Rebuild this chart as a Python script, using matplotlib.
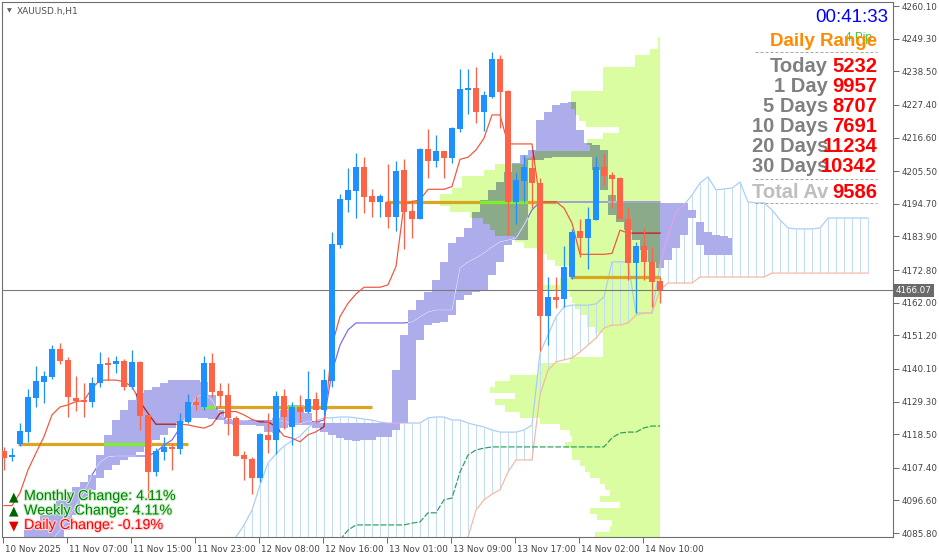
import numpy as np
import matplotlib
matplotlib.use("Agg")
import matplotlib.pyplot as plt
from matplotlib.path import Path
from matplotlib.lines import Line2D
import matplotlib.patheffects as pe
import matplotlib.transforms as mtransforms

nan = np.nan

# ---------------- data (H1 bars, index 0 = 10 Nov 22:00) ----------------
opens = [4113.0, 4110.9, 4115.3, 4119.3, 4130.6, 4135.9, 4137.5, 4146.7, 4142.9, 4130.6,
         4129.8, 4129.3, 4135.3, 4141.7, 4141.6, 4142.7, 4134.0, 4142.5, 4124.8, 4106.1,
         4112.7, 4114.4, 4113.5, 4122.6, 4129.3, 4127.5, 4142.2, 4132.8, 4131.5, 4123.8,
         4111.6, 4110.3, 4104.1, 4118.2, 4116.6, 4131.2, 4121.0, 4127.6, 4125.8, 4130.2,
         4126.5, 4136.2, 4181.2, 4196.0, 4199.0, 4206.9, 4197.3, 4195.4, 4195.3, 4190.4,
         4205.9, 4192.3, 4189.7, 4212.8, 4209.0, 4212.2, 4210.0, 4219.3, 4232.3, 4232.9,
         4225.2, 4230.1, 4242.6, 4232.1, 4195.4, 4202.3, 4206.6, 4201.5, 4157.6, 4163.8,
         4163.2, 4170.5, 4185.7, 4183.5, 4189.3, 4207.0, 4204.2, 4203.1, 4189.6, 4175.0,
         4180.7, 4175.6, 4169.2]
highs = [4114.4, 4113.9, 4122.2, 4133.5, 4141.1, 4139.4, 4148.0, 4148.7, 4144.1, 4137.8,
         4135.3, 4137.5, 4145.6, 4144.1, 4144.5, 4143.4, 4146.4, 4142.7, 4124.8, 4113.8,
         4117.7, 4115.5, 4125.6, 4131.7, 4131.1, 4144.4, 4145.5, 4135.5, 4135.5, 4124.5,
         4112.9, 4111.1, 4118.8, 4125.4, 4132.8, 4133.4, 4129.3, 4131.5, 4139.4, 4132.6,
         4140.0, 4185.3, 4197.8, 4206.6, 4211.4, 4210.3, 4199.5, 4197.9, 4207.8, 4209.0,
         4209.4, 4196.0, 4213.3, 4219.4, 4217.4, 4212.2, 4220.0, 4239.3, 4239.3, 4239.8,
         4232.1, 4244.8, 4243.9, 4232.3, 4204.8, 4210.8, 4211.0, 4203.1, 4170.4, 4170.4,
         4180.7, 4186.3, 4189.7, 4193.5, 4210.3, 4211.2, 4205.3, 4203.5, 4193.2, 4182.0,
         4186.6, 4180.5, 4170.6]
lows = [4106.7, 4109.7, 4114.5, 4116.0, 4127.6, 4128.9, 4136.8, 4141.7, 4124.3, 4126.3,
        4124.3, 4127.6, 4134.0, 4136.4, 4138.6, 4133.1, 4133.4, 4119.9, 4096.8, 4104.8,
        4110.0, 4106.7, 4111.9, 4122.1, 4126.5, 4126.5, 4130.9, 4127.6, 4118.2, 4111.4,
        4103.4, 4098.6, 4102.8, 4112.2, 4111.9, 4120.2, 4115.0, 4122.6, 4125.4, 4122.3,
        4124.9, 4134.2, 4180.0, 4192.1, 4190.1, 4191.6, 4190.4, 4190.4, 4186.8, 4185.8,
        4179.7, 4183.3, 4189.7, 4203.1, 4207.0, 4203.1, 4208.1, 4218.5, 4224.4, 4221.5,
        4218.9, 4229.6, 4219.7, 4184.4, 4188.0, 4195.4, 4193.2, 4146.0, 4148.0, 4160.1,
        4160.7, 4169.7, 4177.2, 4173.1, 4189.3, 4200.9, 4193.2, 4189.6, 4169.5, 4158.5,
        4169.5, 4160.7, 4161.8]
closes = [4110.7, 4111.6, 4119.6, 4130.8, 4136.1, 4137.8, 4146.7, 4142.8, 4130.9, 4129.6,
          4129.3, 4135.5, 4141.7, 4141.5, 4142.7, 4134.0, 4142.5, 4124.6, 4106.1, 4112.9,
          4114.4, 4113.5, 4122.9, 4129.0, 4128.2, 4142.2, 4132.6, 4131.2, 4123.8, 4111.4,
          4110.2, 4104.1, 4118.5, 4116.6, 4131.2, 4124.3, 4127.6, 4125.8, 4130.2, 4126.5,
          4136.4, 4181.4, 4196.3, 4199.3, 4206.9, 4197.1, 4195.4, 4197.3, 4190.4, 4205.6,
          4192.1, 4189.7, 4212.8, 4209.0, 4212.2, 4210.0, 4219.9, 4232.7, 4232.9, 4225.2,
          4230.7, 4242.6, 4231.6, 4195.4, 4202.6, 4207.0, 4201.5, 4157.6, 4164.0, 4162.9,
          4173.9, 4185.5, 4183.5, 4189.7, 4207.0, 4204.0, 4202.9, 4189.6, 4175.0, 4180.8,
          4175.6, 4168.9, 4166.07]

tenkan = [4094.9, 4094.9, 4099.1, 4106.7, 4112.3, 4117.7, 4124.9, 4127.5, 4128.2, 4129.3,
          4129.6, 4133.7, 4136.4, 4136.4, 4136.4, 4135.9, 4134.2, 4129.3, 4125.4, 4121.8,
          4121.8, 4121.8, 4121.8, 4121.6, 4121.0, 4120.5, 4121.6, 4125.4, 4126.0, 4126.0,
          4124.9, 4123.4, 4122.6, 4122.6, 4121.0, 4117.9, 4117.2, 4116.0, 4118.3, 4119.3,
          4121.0, 4148.0, 4157.4, 4161.8, 4164.9, 4167.1, 4167.1, 4167.1, 4167.9, 4174.0,
          4194.5, 4195.4, 4196.0, 4199.5, 4199.5, 4199.5, 4200.4, 4209.4, 4210.1, 4212.5,
          4216.4, 4224.1, 4224.1, 4214.5, 4214.5, 4214.5, 4214.5, 4195.4, 4195.4, 4195.4,
          4193.3, 4188.3, 4178.0, 4178.0, 4178.0, 4178.0, 4178.3, 4186.0, 4185.0, 4185.0,
          4185.0, 4185.0, 4185.0]
kijun = [nan, nan, nan, nan, nan, nan, 4083.5, 4086.8, 4090.8, 4095.1,
         4099.1, 4105.0, 4109.3, 4111.0, 4111.3, 4111.3, 4111.3, 4111.3, 4111.3, 4112.6,
         4114.9, 4116.6, 4120.6, 4125.9, 4130.8, 4131.8, 4129.8, 4124.9, 4122.9, 4122.9,
         4122.9, 4122.9, 4122.9, 4122.9, 4122.9, 4122.9, 4121.9, 4121.9, 4122.9, 4122.5,
         4123.2, 4139.1, 4148.0, 4153.0, 4155.3, 4155.3, 4155.3, 4155.3, 4155.3, 4155.3,
         4155.3, 4155.6, 4157.3, 4158.9, 4159.6, 4159.6, 4159.6, 4173.5, 4175.5, 4176.8,
         4178.4, 4180.4, 4182.1, 4182.7, 4183.4, 4187.7, 4192.7, 4195.3, 4195.3, 4195.3,
         4195.3, 4195.3, 4195.3, 4195.3, 4195.3, 4195.3, 4195.3, 4195.3, 4195.3, 4195.3,
         4195.3, 4195.3, 4195.3]

# lavender (higher time-frame) cloud, bars 2..91
cloud_start = 2
cloud_top = [4084.5, 4086.8, 4089.5, 4091.8, 4094.1, 4096.8, 4099.4, 4101.0, 4102.7, 4105.0,
             4111.6, 4118.2, 4123.2, 4126.5, 4129.8, 4132.1, 4133.1, 4134.1, 4135.4, 4136.4,
             4136.4, 4136.4, 4136.4, 4135.8, 4131.5, 4126.5, 4123.5, 4123.2, 4123.2, 4122.9,
             4122.9, 4122.5, 4123.9, 4126.5, 4128.2, 4128.2, 4125.5, 4122.5, 4122.2, 4122.2,
             4122.2, 4122.2, 4122.2, 4122.2, 4122.2, 4122.2, 4122.2, 4139.7, 4151.3, 4159.6,
             4162.9, 4165.5, 4169.5, 4175.5, 4181.7, 4183.7, 4186.7, 4192.0, 4196.0, 4199.3,
             4201.9, 4205.2, 4208.2, 4210.8, 4212.5, 4222.4, 4225.1, 4227.4, 4228.0, 4228.4,
             4219.1, 4214.8, 4214.2, 4212.5, 4197.6, 4195.3, 4195.0, 4195.0, 4195.0, 4195.0,
             4195.0, 4195.0, 4195.0, 4195.0, 4192.7, 4188.7, 4185.4, 4184.4, 4184.1, 4183.4]
cloud_bot = [4083.5, 4083.5, 4083.5, 4083.5, 4083.5, 4083.5, 4086.8, 4091.8, 4096.8, 4100.1,
             4104.0, 4106.7, 4108.3, 4110.0, 4111.0, 4112.6, 4114.3, 4116.6, 4118.2, 4120.6,
             4122.2, 4123.2, 4123.9, 4123.9, 4123.5, 4123.2, 4121.9, 4121.5, 4121.5, 4121.5,
             4121.2, 4119.2, 4118.9, 4120.6, 4121.5, 4121.5, 4121.5, 4120.6, 4119.2, 4118.2,
             4117.3, 4116.6, 4116.3, 4116.6, 4116.6, 4117.6, 4117.6, 4119.9, 4122.2, 4129.8,
             4149.7, 4154.6, 4155.3, 4155.6, 4157.9, 4162.9, 4164.5, 4165.5, 4166.2, 4171.2,
             4175.5, 4181.1, 4182.7, 4182.7, 4209.2, 4209.2, 4209.8, 4210.2, 4210.2, 4210.2,
             4210.2, 4210.2, 4205.9, 4199.3, 4191.0, 4188.7, 4186.0, 4182.7, 4179.4, 4175.5,
             4173.5, 4176.1, 4180.1, 4184.4, 4190.0, 4181.1, 4177.8, 4177.8, 4177.8, 4177.8]

# H1 Ichimoku kumo drawn as histogram, bars 29..108
hatch_start = 29
hatch_top = [4084.5, 4088.5, 4093.4, 4101.7, 4109.0, 4112.0, 4114.6, 4116.3, 4117.9, 4120.6,
             4122.9, 4123.9, 4123.9, 4124.2, 4124.2, 4123.9, 4123.5, 4123.2, 4122.5, 4122.2,
             4122.2, 4122.2, 4122.2, 4122.2, 4123.9, 4124.2, 4124.2, 4123.2, 4123.2, 4122.2,
             4121.5, 4120.9, 4119.9, 4119.2, 4119.2, 4119.2, 4119.9, 4121.5, 4145.4, 4151.3,
             4157.3, 4160.6, 4161.2, 4161.2, 4161.2, 4161.6, 4163.9, 4175.5, 4175.5, 4175.5,
             4158.6, 4158.6, 4158.6, 4174.5, 4184.4, 4192.0, 4194.3, 4197.6, 4201.6, 4203.6,
             4199.3, 4199.6, 4199.9, 4201.9, 4195.3, 4195.0, 4195.0, 4192.7, 4189.4, 4186.7,
             4186.4, 4186.4, 4186.4, 4186.7, 4190.0, 4190.0, 4190.0, 4190.0, 4190.0, 4190.0]
hatch_bot = [4080.0] * 29 + [
             4084.5, 4093.4, 4096.8, 4098.7, 4100.1, 4106.0, 4110.0, 4110.0, 4110.0, 4131.5,
             4139.7, 4142.4, 4143.1, 4143.7, 4145.7, 4148.0, 4150.3, 4153.6, 4154.6, 4154.6,
             4155.3, 4157.9, 4158.6, 4158.6, 4166.2,
             4168.5, 4168.5, 4168.5, 4168.5] + [4170.5] * 9 + [4171.8] * 13

# green (lagging) line, bars 42..82
green_start = 42
green_line = [4083.5, 4086.8, 4088.5, 4088.5, 4088.5, 4088.5, 4088.5, 4088.5, 4088.5, 4089.1,
              4089.5, 4092.5, 4092.5, 4096.8, 4097.4, 4106.0, 4111.6, 4113.3, 4113.9, 4114.3,
              4114.3, 4114.3, 4114.3, 4114.3, 4114.3, 4114.3, 4114.3, 4114.3, 4114.3, 4114.3,
              4114.3, 4114.3, 4114.3, 4114.3, 4117.3, 4118.9, 4119.2, 4119.2, 4120.6, 4121.2,
              4121.2]

# volume profile: bins of 2.0 starting at 4084
profile_low = 4084.0
profile_step = 2.0
profile_volume = [8.2, 6.3, 6.1, 7.9, 8.8, 5.1, 7.6, 6.3, 6.9, 7.6,
                  8.8, 9.4, 10.1, 11.1, 11.1, 11.9, 11.1, 11.3, 12.6, 15.1,
                  17.6, 19.4, 20.7, 18.2, 21.3, 20.7, 18.8, 15.3, 15.3, 11.3,
                  7.2, 7.2, 7.2, 7.2, 8.2, 9.2, 9.2, 10.1, 10.7, 11.1,
                  11.3, 15.1, 12.6, 11.3, 11.3, 13.2, 14.2, 15.1, 17.0, 18.2,
                  20.7, 21.3, 22.2, 23.8, 26.3, 27.6, 27.6, 26.1, 24.8, 24.8,
                  22.1, 20.7, 17.0, 15.7, 8.8, 9.2, 7.2, 5.2, 9.3, 10.2,
                  10.7, 11.2, 11.2, 11.2, 7.2, 7.2, 7.2, 7.2, 3.2, 3.2,
                  1.3, 0.3, 0.3]

# daily open levels
day_open = [4115.3, 4127.5, 4195.3, 4170.5]
day_first_bar = [2, 25, 48, 71]
day_last_bar = [23, 46, 69, 82]

price_ticks = [4260.10, 4249.30, 4238.50, 4227.40, 4216.60, 4205.50, 4194.70, 4183.90,
               4172.80, 4162.00, 4151.20, 4140.10, 4129.30, 4118.50, 4107.40, 4096.60, 4085.80]
time_tick_bars = [0, 8, 16, 24, 32, 40, 48, 56, 64, 72, 80]
time_tick_labels = ["10 Nov 2025", "11 Nov 07:00", "11 Nov 15:00", "11 Nov 23:00",
                    "12 Nov 08:00", "12 Nov 16:00", "13 Nov 01:00", "13 Nov 09:00",
                    "13 Nov 17:00", "14 Nov 02:00", "14 Nov 10:00"]
last_price = 4166.07

range_labels = ["Today", "1 Day", "5 Days", "10 Days", "20 Days", "30 Days"]
range_values = [5232, 9957, 8707, 7691, 11234, 10342]
range_total = 9586
change_names = ["Monthly Change", "Weekly Change", "Daily Change"]
change_values = [4.11, 4.11, -0.19]

# ---------------- styling ----------------
BULL = "#1E90FF"
BEAR = "#FF6347"
TENKAN_C = "#F2553A"
TENKAN_X = "#A82840"
KIJUN_C = "#7B68EE"
KIJUN_X = "#D6DAF6"
CLOUD_C = "#ADADEB"
OVER_C = "#8AAA8A"
HATCH_C = "#C2DDF7"
HTOP_C = "#A9CDF2"
HTOP_X = "#E49BE6"
HBOT_C = "#F6B8A2"
GREEN_C = "#2E9E5A"
PROF_C = "#D9FDA0"
GOLD_C = "#DAA520"
GOLD_X = "#7CF02C"
AX_C = "#6E6E6E"
PX = 0.72  # one pixel in points

W, H = 939, 558
fig = plt.figure(figsize=(W / 100, H / 100), dpi=100)
ax = fig.add_axes([2 / W, 21 / H, 891 / W, 535 / H])
ax.set_xlim(-0.25, 111.125)
ax.set_ylim(4084.51, 4261.44)
ax.set_facecolor("white")

# volume profile
nb = len(profile_volume)
prof_lo = profile_low + profile_step * np.arange(nb)
prof_vol = np.array(profile_volume)
anchor = len(opens) - 1 + 0.06
ax.barh(prof_lo, prof_vol, height=profile_step, left=anchor - prof_vol, align="edge",
        color=PROF_C, lw=0, zorder=1)
verts, codes = [], []
for lo, v in zip(prof_lo, prof_vol):
    l, r, t = anchor - v, anchor, lo + profile_step
    verts += [(l, lo), (r, lo), (r, t), (l, t), (l, lo)]
    codes += [Path.MOVETO, Path.LINETO, Path.LINETO, Path.LINETO, Path.CLOSEPOLY]
prof_path = Path(verts, codes)

# hatched H1 kumo
hx = np.arange(hatch_start, hatch_start + len(hatch_top))
htop = np.array(hatch_top)
hbot = np.array(hatch_bot)
ax.vlines(hx, hbot, htop, colors=HATCH_C, lw=PX, zorder=1.5)

# lavender cloud
cx = np.arange(cloud_start, cloud_start + len(cloud_top))
ctop = np.array(cloud_top)
cbot = np.array(cloud_bot)
cloud_coll = ax.fill_between(cx, cbot, ctop, step="mid", color=CLOUD_C, lw=0, zorder=2)
cloud_path = Path.make_compound_path(*cloud_coll.get_paths())
over = ax.fill_between(cx, cbot, ctop, step="mid", color=OVER_C, lw=0, zorder=2.1)
over.set_clip_path(prof_path, ax.transData)

# kumo boundary lines
ax.plot(hx, htop, color=HTOP_C, lw=1.0 * PX * 1.2, zorder=3)
l = ax.plot(hx, htop, color=HTOP_X, lw=1.0 * PX * 1.2, zorder=3.05)[0]
l.set_clip_path(cloud_path, ax.transData)
ax.plot(hx, hbot, color=HBOT_C, lw=PX * 1.2, zorder=3)

# green lagging line
gx = np.arange(green_start, green_start + len(green_line))
ax.plot(gx, green_line, color=GREEN_C, lw=PX * 1.2, zorder=3, dashes=(5, 1.5))

# daily open lines
for y, a, b in zip(day_open, day_first_bar, day_last_bar):
    ax.hlines(y, a - 0.2, b, colors=GOLD_C, lw=2.3, zorder=3.5)
    hl = ax.hlines(y, a - 0.2, b, colors=GOLD_X, lw=2.3, zorder=3.55)
    hl.set_clip_path(cloud_path, ax.transData)

# last price line
ax.axhline(last_price, color="#7A7A7A", lw=PX * 1.1, zorder=3.6)

# tenkan / kijun
bx = np.arange(len(opens))
ax.plot(bx, kijun, color=KIJUN_C, lw=PX * 1.2, zorder=4)
l = ax.plot(bx, kijun, color=KIJUN_X, lw=PX * 1.2, zorder=4.05)[0]
l.set_clip_path(cloud_path, ax.transData)
ax.plot(bx, tenkan, color=TENKAN_C, lw=PX * 1.2, zorder=4.1)
l = ax.plot(bx, tenkan, color=TENKAN_X, lw=PX * 1.2, zorder=4.15)[0]
l.set_clip_path(cloud_path, ax.transData)

# candles
o = np.array(opens); c = np.array(closes); hi = np.array(highs); lo_ = np.array(lows)
colors = np.where(c >= o, BULL, BEAR)
ax.vlines(bx, lo_, hi, colors=colors, lw=PX * 1.3, zorder=5)
body_b = np.minimum(o, c)
body_h = np.maximum(np.abs(c - o), 0.4)
ax.bar(bx, body_h, bottom=body_b, width=0.72, color=colors, lw=0, zorder=5.1)

# axes styling
for s in ax.spines.values():
    s.set_color(AX_C)
    s.set_linewidth(PX * 1.1)
ax.yaxis.tick_right()
ax.set_yticks(price_ticks)
ax.set_yticklabels([f"{v:.2f}" for v in price_ticks])
ax.tick_params(axis="y", direction="out", length=4, width=PX, color=AX_C,
               labelsize=6.3, labelcolor="#444444", pad=2)
ax.set_xticks([b - 0.1 for b in time_tick_bars])
ax.set_xticklabels(time_tick_labels)
ax.tick_params(axis="x", direction="out", length=4, width=PX, color=AX_C,
               labelsize=6.3, labelcolor="#444444", pad=1.5)
off = mtransforms.ScaledTranslation(2 / 100, 0, fig.dpi_scale_trans)
for lab in ax.get_xticklabels():
    lab.set_ha("left")
    lab.set_transform(lab.get_transform() + off)

# last price tag
off3 = mtransforms.ScaledTranslation(3 / 100, 0, fig.dpi_scale_trans)
ax.text(1.0, last_price, f"{last_price:.2f}", transform=ax.get_yaxis_transform() + off3,
        ha="left", va="center", fontsize=6.3, color="white", clip_on=False, zorder=10,
        bbox=dict(boxstyle="square,pad=0.25", fc="#6A6A6A", ec="none"))


def ftext(x, y, s, **kw):
    return fig.text(x / W, 1 - y / H, s, **kw)


# title
ftext(9.5, 10.5, "\u25bc", ha="center", va="center", fontsize=4.5, color="#606060")
ftext(17, 14, "XAUUSD.h,H1", ha="left", va="baseline", fontsize=6.5, color="#505050")

# daily range panel
LS = ["Liberation Sans", "DejaVu Sans"]
ftext(888, 21.7, "00:41:33", ha="right", va="baseline", fontsize=13.5, color="#0000FF", family=LS)
ftext(845, 41, "4 Pip", ha="left", va="baseline", fontsize=8.5, color="#3CC83C", family=LS)
ftext(877, 45.5, "Daily Range", ha="right", va="baseline", fontsize=13.5, fontweight="bold",
      color="#FF8C00", family=LS)
for yy in (52, 179, 203):
    fig.add_artist(Line2D([755 / W, 877 / W], [1 - yy / H] * 2, transform=fig.transFigure,
                          color="#A8A8A8", lw=PX, dashes=(3, 2)))
for k, (lab, val) in enumerate(zip(range_labels, range_values)):
    yb = 71.7 + 20 * k
    ftext(828, yb, lab, ha="right", va="baseline", fontsize=14.5, fontweight="bold",
          color="#808080", family=LS)
    ftext(877, yb, str(val), ha="right", va="baseline", fontsize=14.5, fontweight="bold",
          color="#FF0000", family=LS)
ftext(828, 198, "Total Av", ha="right", va="baseline", fontsize=14.5, fontweight="bold",
      color="#BEBEBE", family=LS)
ftext(877, 198, str(range_total), ha="right", va="baseline", fontsize=14.5, fontweight="bold",
      color="#FF0000", family=LS)

# change info
for k, (name, val) in enumerate(zip(change_names, change_values)):
    yb = 500 + 14.5 * k
    if val >= 0:
        tri, tcol, col, halo = "\u25b2", "#006400", "#008000", "#CDEFCD"
    else:
        tri, tcol, col, halo = "\u25bc", "#E00000", "#FF0000", "#FFD6D6"
    ftext(9, yb, tri, ha="left", va="baseline", fontsize=9, color=tcol, family="DejaVu Sans")
    ftext(24, yb, f"{name}: {val:.2f}%", ha="left", va="baseline", fontsize=10.3, color=col,
          family=LS, path_effects=[pe.withStroke(linewidth=1.6, foreground=halo)])

fig.savefig("out.png", dpi=100)
